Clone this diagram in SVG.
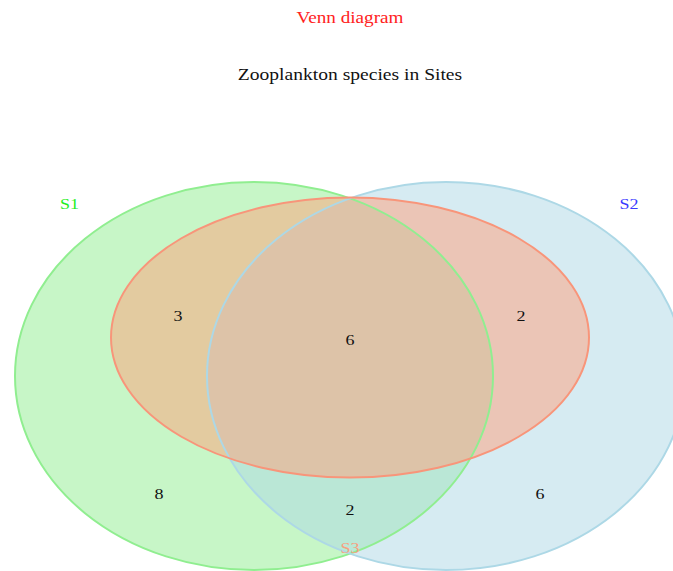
<svg xmlns="http://www.w3.org/2000/svg" width="673" height="571" viewBox="0 0 673 571">
<style>
  text { font-family: "Liberation Serif", "Times New Roman", serif; text-anchor: middle; }
  .num { font-size: 15px; fill: #111111; }
  .lbl { font-size: 15px; }
  .fill { opacity: 0.5; stroke: none; }
  .edge { fill: none; stroke-width: 2; }
</style>
<rect width="673" height="571" fill="#ffffff"/>
<g id="titles">
  <text transform="translate(350,23) scale(1.2,1)" font-size="16" fill="#ff2222">Venn diagram</text>
  <text transform="translate(350,80) scale(1.2,1)" font-size="16.3" fill="#111111">Zooplankton species in Sites</text>
</g>
<g id="fills">
  <ellipse class="fill" cx="254" cy="376" rx="239" ry="194" fill="#90EE90"/>
  <ellipse class="fill" cx="446" cy="376" rx="239" ry="194" fill="#ADD8E6"/>
  <ellipse class="fill" cx="350" cy="337.5" rx="239" ry="140" fill="#FFA07A"/>
</g>
<g id="connectors"></g>
<g id="S1">
  <ellipse class="edge" cx="254" cy="376" rx="239" ry="194" stroke="#90EE90"/>
  <text class="lbl" transform="translate(69.5,209) scale(1.2,1)" fill="#22ee22">S1</text>
</g>
<g id="S2">
  <ellipse class="edge" cx="446" cy="376" rx="239" ry="194" stroke="#ADD8E6"/>
  <text class="lbl" transform="translate(629,209) scale(1.2,1)" fill="#3a3aff">S2</text>
</g>
<g id="S3">
  <ellipse class="edge" cx="350" cy="337.5" rx="239" ry="140" stroke="#F8957A"/>
  <text class="lbl" transform="translate(350,553) scale(1.2,1)" fill="#f7a080">S3</text>
</g>
<g id="counts">
  <text class="num" transform="translate(178,321) scale(1.2,1)">3</text>
  <text class="num" transform="translate(350,345) scale(1.2,1)">6</text>
  <text class="num" transform="translate(521,321) scale(1.2,1)">2</text>
  <text class="num" transform="translate(159,499) scale(1.2,1)">8</text>
  <text class="num" transform="translate(350,515) scale(1.2,1)">2</text>
  <text class="num" transform="translate(540,499) scale(1.2,1)">6</text>
</g>
</svg>
